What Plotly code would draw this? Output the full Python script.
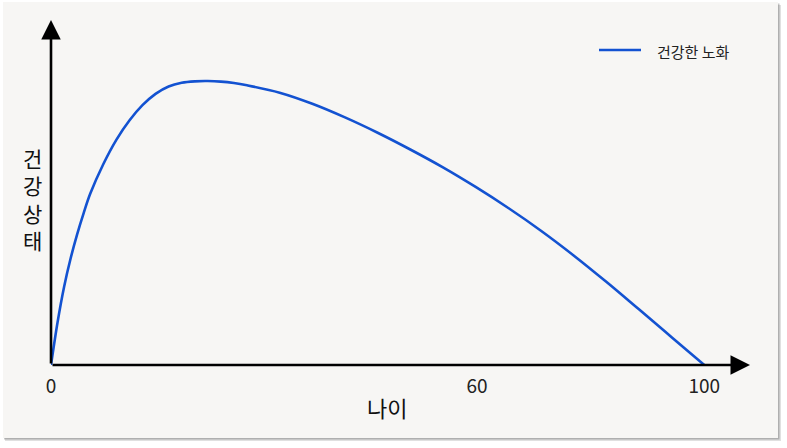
import plotly.graph_objects as go

# Data (age, health state)
age = [0, 1, 2, 3, 4, 5, 6, 8, 10, 12, 14, 16, 18, 20, 22, 24, 26, 28, 30, 35, 40, 45,
       50, 55, 60, 65, 70, 75, 80, 85, 90, 95, 100]
health = [0, 15, 27.5, 37.5, 46, 53.5, 60.3, 70.7, 79.3, 86.1, 91.5, 95.5, 98.1, 99.4, 99.9, 100,
          99.8, 99.3, 98.5, 95.9, 92.0, 87.2, 81.8, 75.9, 69.6, 62.7, 55.3, 47.3, 38.6, 29.3,
          19.6, 9.8, 0]
series_name = "건강한 노화"
tick_positions = [0, 65.2, 100]
tick_labels = ["0", "60", "100"]
x_title = "나이"
y_title = "건강상태"

FONT = "Noto Sans CJK KR"
W, H = 787, 448
L, R, T, B = 51, 37, 20, 83
pw, ph = W - L - R, H - T - B
LINE_COLOR = "#1352d1"

def px_x(p):
    return (p - L) / pw

def px_y(p):
    return (H - B - p) / ph

fig = go.Figure()
fig.add_trace(go.Scatter(x=age, y=health, mode="lines", name=series_name, showlegend=False,
                         line=dict(color=LINE_COLOR, width=2.6, shape="spline", smoothing=1.0)))

shapes = [
    # shadow
    dict(type="rect", xref="paper", yref="paper", layer="below",
         x0=px_x(5), x1=px_x(781), y0=px_y(5), y1=px_y(441),
         fillcolor="rgba(0,0,0,0.12)", line=dict(width=0)),
    dict(type="rect", xref="paper", yref="paper", layer="below",
         x0=px_x(4), x1=px_x(779.5), y0=px_y(3.5), y1=px_y(439.5),
         fillcolor="rgba(0,0,0,0.22)", line=dict(width=0)),
    # card
    dict(type="rect", xref="paper", yref="paper", layer="below",
         x0=px_x(3), x1=px_x(778), y0=px_y(2), y1=px_y(438),
         fillcolor="#f7f6f4", line=dict(width=0)),
    # legend line
    dict(type="line", xref="paper", yref="paper",
         x0=px_x(599), x1=px_x(641), y0=px_y(50), y1=px_y(50),
         line=dict(color=LINE_COLOR, width=2.6)),
]

annotations = [
    # x axis arrow
    dict(x=107, y=0, ax=0, ay=0, xref="x", yref="y", axref="x", ayref="y",
         showarrow=True, arrowhead=2, arrowsize=1.5, arrowwidth=2.6, arrowcolor="#000", text=""),
    # y axis arrow
    dict(x=0, y=121.5, ax=0, ay=0, xref="x", yref="y", axref="x", ayref="y",
         showarrow=True, arrowhead=2, arrowsize=1.5, arrowwidth=2.6, arrowcolor="#000", text=""),
    dict(text=x_title, xref="paper", yref="paper", x=px_x(387), y=px_y(407),
         xanchor="center", yanchor="middle", showarrow=False,
         font=dict(family=FONT, size=22, color="#111")),
    dict(text="<br>".join(list(y_title)), xref="paper", yref="paper", x=px_x(32), y=px_y(199),
         xanchor="center", yanchor="middle", showarrow=False,
         font=dict(family=FONT, size=21, color="#111")),
    dict(text=series_name, xref="paper", yref="paper", x=px_x(655), y=px_y(51),
         xanchor="left", yanchor="middle", showarrow=False,
         font=dict(family=FONT, size=15, color="#222")),
]

fig.update_layout(
    width=W, height=H,
    margin=dict(l=L, r=R, t=T, b=B),
    paper_bgcolor="white", plot_bgcolor="#f7f6f4",
    shapes=shapes, annotations=annotations,
    showlegend=False,
    xaxis=dict(range=[0, 107], showgrid=False, zeroline=False, showline=False,
               tickvals=tick_positions, ticktext=tick_labels, ticks="outside", ticklen=4,
               tickcolor="rgba(0,0,0,0)", tickfont=dict(family=FONT, size=19, color="#222")),
    yaxis=dict(range=[0, 121.5], showgrid=False, zeroline=False, showline=False,
               showticklabels=False),
)

fig.write_html("out.html")
